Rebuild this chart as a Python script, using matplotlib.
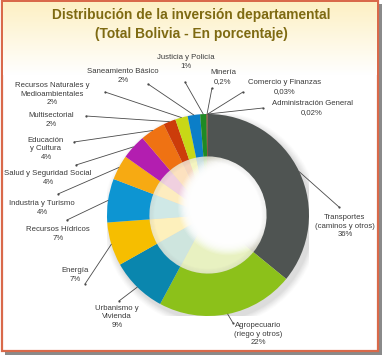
import numpy as np
import matplotlib
matplotlib.use("Agg")
import matplotlib.pyplot as plt
from matplotlib.patches import Circle, Rectangle
from matplotlib.colors import to_rgb

# ---------------- data ----------------
categories = ["Transportes\n(caminos y otros)", "Agropecuario\n(riego y otros)",
              "Urbanismo y\nVivienda", "Energía", "Recursos Hídricos",
              "Industria y Turismo", "Salud y Seguridad Social", "Educación\ny Cultura",
              "Multisectorial", "Recursos Naturales y\nMedioambientales",
              "Saneamiento Básico", "Justicia y Policía", "Minería",
              "Comercio y Finanzas", "Administración General"]
values = [36, 22, 9, 7, 7, 4, 4, 4, 2, 2, 2, 1, 0.2, 0.03, 0.02]
value_labels = ["36%", "22%", "9%", "7%", "7%", "4%", "4%", "4%", "2%", "2%",
                "2%", "1%", "0,2%", "0,03%", "0,02%"]
colors = ["#4f5452", "#8cc11a", "#0a86ae", "#f6be00", "#0d95d2", "#f7aa12",
          "#b31eb0", "#ef7213", "#cc3c0a", "#c8d816", "#0b7ec8", "#1f8a24",
          "#6b3a12", "#d0402a", "#3070c0"]
title_lines = ["Distribución de la inversión departamental",
               "(Total Bolivia - En porcentaje)"]

# label layout (pixel coordinates of text centre and leader-line start)
label_pos = [(345, 226), (258, 334), (117, 317), (75, 275), (58, 234),
             (42, 208), (48, 178), (46, 149), (51, 120), (52, 94),
             (123, 76), (186, 62), (223, 77), (285, 87), (312, 108)]
line_start = [(339, 207), (233, 323), (119, 301), (85, 284), (67, 220),
              (58, 194), (76, 165), (74, 142), (86, 116), (105, 92),
              (148, 84), (185, 82), (212, 88), (243, 92), (263, 108)]

W, H = 384, 357
fig = plt.figure(figsize=(W / 100, H / 100), dpi=100)
fig.patch.set_facecolor("white")

# background axes in pixel units
bg = fig.add_axes([0, 0, 1, 1], zorder=0)
bg.set_xlim(0, W)
bg.set_ylim(H, 0)
bg.axis("off")
# frame shadow
bg.add_patch(Rectangle((5, 4), 377, 351, facecolor="#8a8a8a", edgecolor="none"))
bg.add_patch(Rectangle((2, 1), 376, 350, facecolor="white", edgecolor="#d9694a", lw=1.6))
# cream gradient at top
grad = np.linspace(0, 1, 100).reshape(-1, 1)
top_c = np.array(to_rgb("#fdf0c4"))
img = top_c[None, None, :] * (1 - grad[:, :, None]) + np.ones(3)[None, None, :] * grad[:, :, None]
bg.imshow(img, extent=(3, 377, 75, 2), aspect="auto", zorder=1)

# title
tfam = ["Liberation Sans Narrow", "Liberation Sans", "DejaVu Sans"]
bg.text(191, 15, title_lines[0], ha="center", va="center", fontsize=9.9,
        fontweight="bold", color="#7e6a12", family=tfam, zorder=5)
bg.text(191, 34, title_lines[1], ha="center", va="center", fontsize=9.9,
        fontweight="bold", color="#7e6a12", family=tfam, zorder=5)

# pie axes: centre (208,215), radius 101 px
cx, cy, R = 208, 215, 101
pie_ax = fig.add_axes([(cx - R) / W, (H - cy - R) / H, 2 * R / W, 2 * R / H], zorder=2)
pie_ax.set_facecolor("none")

# soft drop shadow
for k, a in enumerate(np.linspace(0.05, 0.02, 6)):
    pie_ax.add_patch(Circle((0.03, -0.04), 1.0 + 0.012 * (k + 1), color="#555555",
                            alpha=a, lw=0, zorder=0))

wedges, _ = pie_ax.pie(values, colors=colors, startangle=90, counterclock=False,
                       radius=1.0, wedgeprops=dict(width=0.42, linewidth=0))
for w in wedges:
    w.set_zorder(2)

pastel = [tuple(0.2 * np.array(to_rgb(c)) + 0.8 * np.array([1.0, 0.99, 0.92])) for c in colors]
inner, _ = pie_ax.pie(values, colors=pastel, startangle=90, counterclock=False,
                      radius=0.58, wedgeprops=dict(linewidth=0))
for w in inner:
    w.set_zorder(1)

hole = Circle((0, 0), 0.58, transform=pie_ax.transData)
for k in range(14):
    r = 0.5 - 0.012 * k
    c = Circle((0.2, 0.1), r, color="white", alpha=0.15 + 0.04 * k, lw=0, zorder=1.5)
    pie_ax.add_patch(c)
    c.set_clip_path(hole)
# inner edge shadow
for k in range(5):
    ring = Circle((0, 0), 0.58 - 0.01 * k, fill=False, ec="#9a9a9a", lw=1.2,
                  alpha=0.09 - 0.016 * k, zorder=1.6)
    pie_ax.add_patch(ring)

pie_ax.set_xlim(-1, 1)
pie_ax.set_ylim(-1, 1)
pie_ax.set_aspect("equal")
pie_ax.axis("off")

# labels and leader lines
top = fig.add_axes([0, 0, 1, 1], zorder=3)
top.set_xlim(0, W)
top.set_ylim(H, 0)
top.axis("off")
top.patch.set_alpha(0)

font_l = ["Liberation Sans", "DejaVu Sans"]
for i, w in enumerate(wedges):
    th = np.deg2rad((w.theta1 + w.theta2) / 2)
    end = (np.cos(th), np.sin(th))
    pie_ax.annotate("", xy=end, xycoords="data", xytext=line_start[i],
                    textcoords=top.transData,
                    arrowprops=dict(arrowstyle="-", color="#4a4a4a", lw=0.6,
                                    shrinkA=0, shrinkB=0), annotation_clip=False)
    top.plot(*line_start[i], marker="o", ms=1.6, color="#4a4a4a", mec="none")
    top.text(label_pos[i][0], label_pos[i][1], categories[i] + "\n" + value_labels[i],
             ha="center", va="center", fontsize=5.6, color="#3a3a3a",
             family=font_l, linespacing=1.25)

fig.savefig("out.png", dpi=100, facecolor="white")
